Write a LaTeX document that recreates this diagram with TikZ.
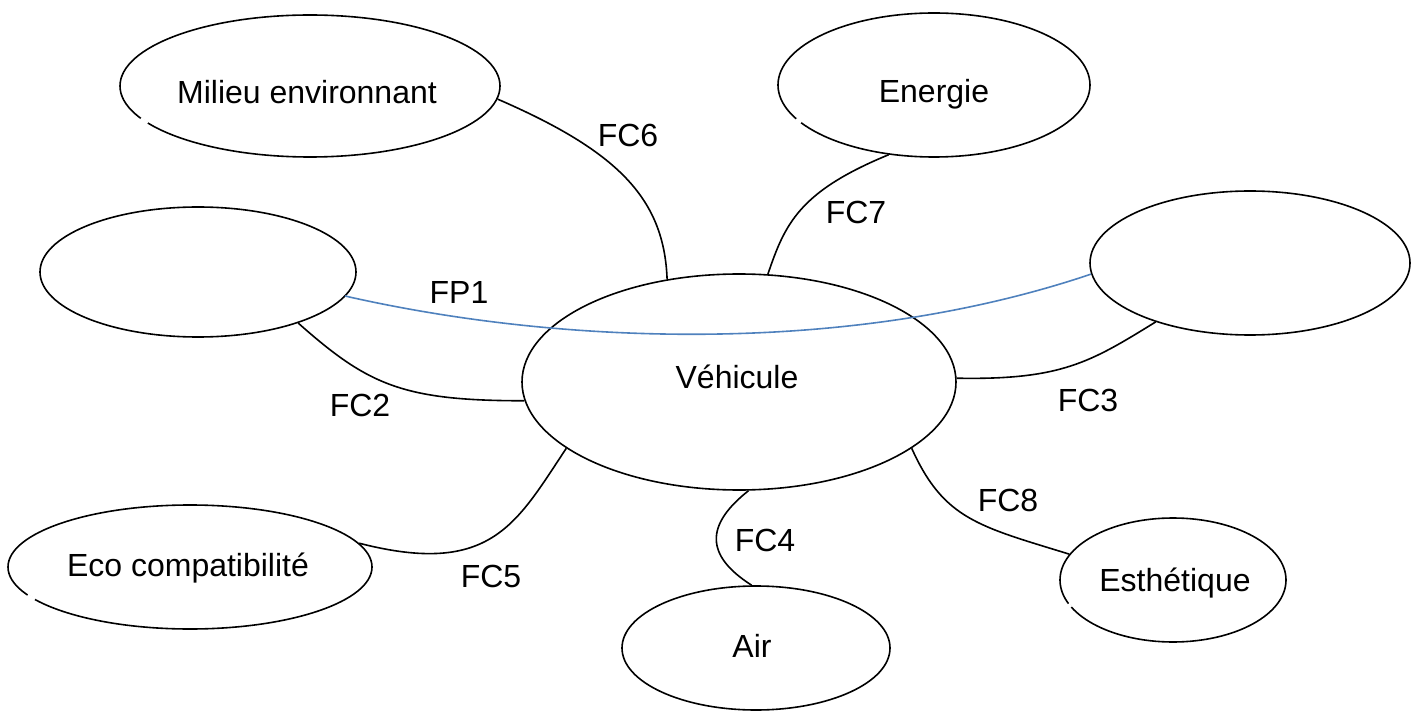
\documentclass[tikz,border=0pt]{standalone}
\usepackage{fontspec}
\setmainfont{Liberation Sans}
\usetikzlibrary{shapes.geometric}
\definecolor{linkblue}{HTML}{4F81BD}
\begin{document}
\begin{tikzpicture}[x=1pt,y=-1pt,
  bubble/.style={draw=black,line width=1.6pt,ellipse,inner sep=0pt},
  link/.style={draw=black,line width=1.6pt},
  mainlink/.style={draw=linkblue,line width=1.6pt},
  tag/.style={inner sep=0pt,font=\fontsize{32}{38}\selectfont},
  gap/.style={draw=white,line width=4pt}]
\useasboundingbox (0,0) rectangle (1416,711);

% surrounding elements
\node[bubble,minimum width=380pt,minimum height=142pt] (milieu) at (310,86) {};
\node[bubble,minimum width=312pt,minimum height=144pt] (energie) at (934,85) {};
\node[bubble,minimum width=316pt,minimum height=130pt] (gauche) at (198,272) {};
\node[bubble,minimum width=320pt,minimum height=144pt] (droite) at (1250,263) {};
\node[bubble,minimum width=434pt,minimum height=216pt] (vehicule) at (739,382) {};
\node[bubble,minimum width=364pt,minimum height=124pt] (eco) at (190,567) {};
\node[bubble,minimum width=268pt,minimum height=124pt] (air) at (756,648) {};
\node[bubble,minimum width=226pt,minimum height=124pt] (esth) at (1173,580) {};

% element names
\node[tag] (tmilieu) at ([xshift=-3pt,yshift=-6pt]milieu.center) {Milieu environnant};
\node[tag] (tenergie) at ([yshift=-9pt]energie.center) {Energie};
\node[tag] (tvehicule) at ([xshift=-2pt,yshift=5pt]vehicule.center) {Véhicule};
\node[tag] (teco) at ([xshift=-2pt,yshift=-1pt]eco.center) {Eco compatibilité};
\node[tag] (tair) at ([xshift=-4pt,yshift=2pt]air.center) {Air};
\node[tag] (testh) at ([xshift=2pt,yshift=-3pt]esth.center) {Esthétique};

% small breaks in the outlines
\draw[gap] (milieu.191.5) -- (milieu.193.5);
\draw[gap] (energie.194) -- (energie.196);
\draw[gap] (eco.190) -- (eco.192);
\draw[gap] (esth.193) -- (esth.195);

% free end of the main function inside the left element
\coordinate (fpstart) at (345,296);

% functions
\draw[mainlink] (fpstart) .. controls +(215,49) and +(-243,82) .. (droite.184);
\draw[link] (milieu.-4) .. controls +(120,52) and +(-3,-81) .. (vehicule.125);
\draw[link] (energie.-123) .. controls +(-90,37) and +(17,-50) .. (vehicule.75);
\draw[link] (gauche.-27) .. controls +(70,62) and +(-122,0) .. (vehicule.185);
\draw[link] (vehicule.1) .. controls +(105,2) and +(-65,40) .. (droite.212);
\draw[link] (vehicule.201) .. controls +(-50,75) and +(132,34) .. (eco.8);
\draw[link] (vehicule.-85) .. controls +(-43,34) and +(-47,-30) .. (air.94);
\draw[link] (vehicule.-21) .. controls +(32,71) and +(-91,-28) .. (esth.166);

% function labels
\node[tag] (lfp1) at (459,292) {FP1};
\node[tag] (lfc2) at (360,405) {FC2};
\node[tag] (lfc3) at (1088,400) {FC3};
\node[tag] (lfc4) at (765,540) {FC4};
\node[tag] (lfc5) at (491,576) {FC5};
\node[tag] (lfc6) at (628,135) {FC6};
\node[tag] (lfc7) at (856,212) {FC7};
\node[tag] (lfc8) at (1008,500) {FC8};
\end{tikzpicture}
\end{document}
